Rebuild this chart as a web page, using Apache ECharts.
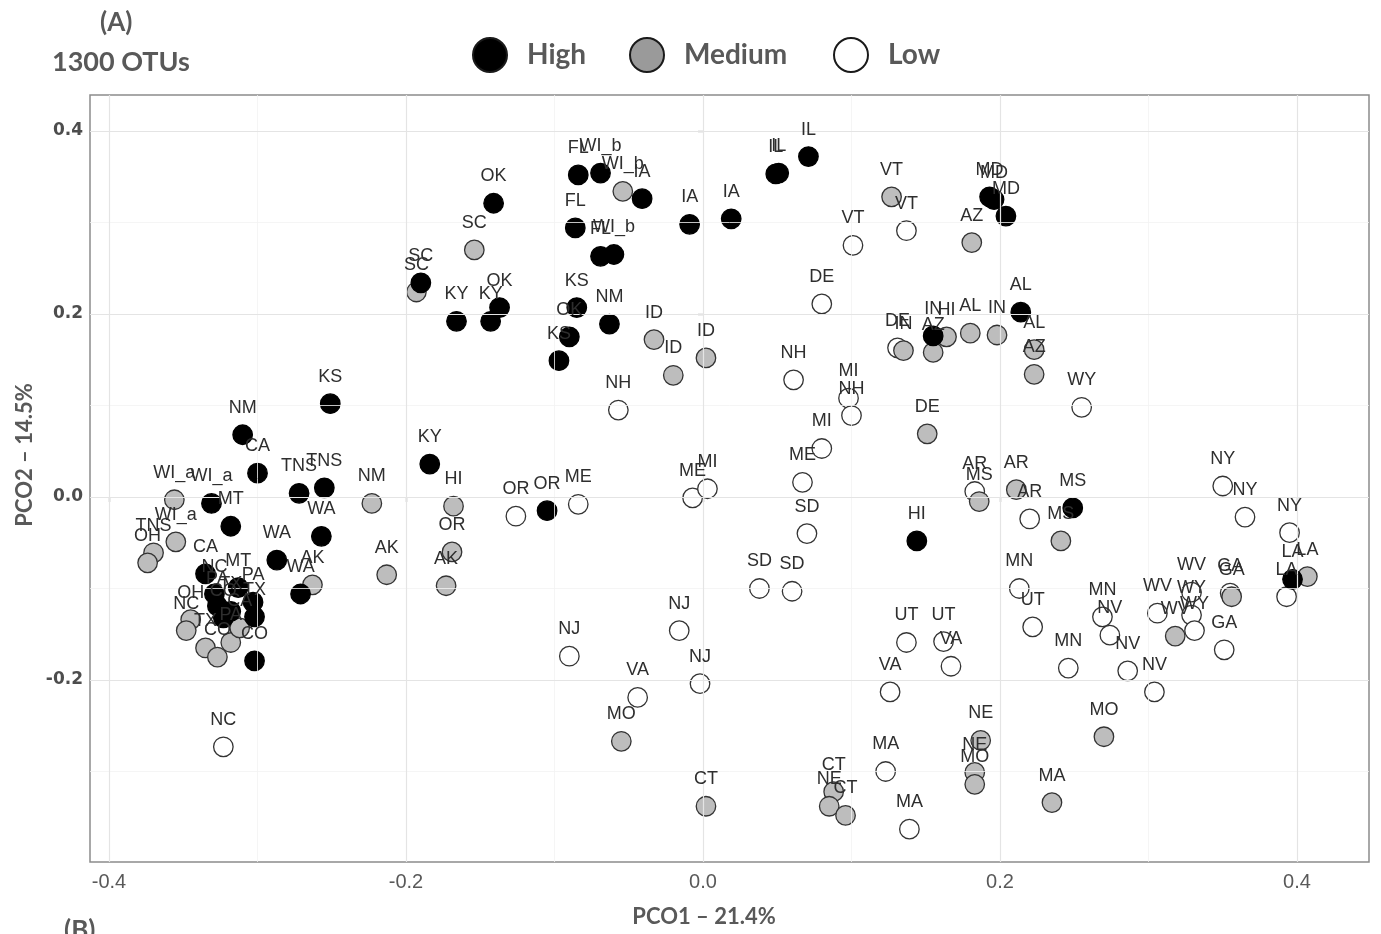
<!DOCTYPE html>
<html>
<head>
<meta charset="utf-8">
<script src="https://cdn.jsdelivr.net/npm/echarts@6/dist/echarts.min.js"></script>
<style>
  html, body { margin: 0; padding: 0; background: #ffffff; }
  #chart { width: 1381px; height: 934px; }
</style>
</head>
<body>
<div id="chart"></div>
<script>
// PCoA sample scores, grouped by abundance class (label = state / site)
const highLabels = ['OK','SC','KY','KY','OK','FL','WI_b','IA','FL','FL','WI_b','IA','IA','IL','IL','IL','KS','OK','KS','NM',
  'MD','MD','MD','IN','AL','KY','OR','MS','HI','LA','KS','NM','CA','TNS','TNS','WA','WI_a','MT','WA','WA',
  'CA','NC','MT','PA','TX','PA','CO','TX','CO'];
const highX = [-0.141,-0.190,-0.166,-0.143,-0.137,-0.084,-0.069,-0.041,-0.086,-0.069,-0.060,-0.009,0.019,0.049,0.051,0.071,-0.085,-0.090,-0.097,-0.063,
  0.193,0.196,0.204,0.155,0.214,-0.184,-0.105,0.249,0.144,0.397,-0.251,-0.310,-0.300,-0.272,-0.255,-0.257,-0.331,-0.318,-0.287,-0.271,
  -0.335,-0.329,-0.313,-0.303,-0.302,-0.327,-0.323,-0.318,-0.302];
const highY = [0.321,0.234,0.192,0.192,0.207,0.352,0.354,0.326,0.294,0.263,0.265,0.298,0.304,0.353,0.354,0.372,0.207,0.175,0.149,0.189,
  0.328,0.325,0.307,0.176,0.202,0.036,-0.015,-0.012,-0.048,-0.090,0.102,0.068,0.026,0.004,0.010,-0.043,-0.007,-0.032,-0.069,-0.106,
  -0.084,-0.106,-0.099,-0.115,-0.131,-0.119,-0.132,-0.125,-0.179];

const medLabels = ['SC','SC','WI_b','ID','ID','ID','VT','AZ','IN','HI','AZ','AL','IN','AL','AZ','DE','NM','HI','OR','AK',
  'AK','MS','AR','MS','WV','GA','LA','MO','CT','CT','NE','CT','NE','NE','MO','MA','MO','WI_a','WI_a','TNS',
  'OH','AK','OH','NC','TX','CO','PA','CA'];
const medX = [-0.154,-0.193,-0.054,-0.033,-0.020,0.002,0.127,0.181,0.135,0.164,0.155,0.180,0.198,0.223,0.223,0.151,-0.223,-0.168,-0.169,-0.173,
  -0.213,0.186,0.211,0.241,0.318,0.356,0.407,-0.055,0.002,0.088,0.085,0.096,0.187,0.183,0.183,0.235,0.270,-0.356,-0.355,-0.370,
  -0.374,-0.263,-0.345,-0.348,-0.335,-0.327,-0.318,-0.312];
const medY = [0.270,0.224,0.334,0.172,0.133,0.152,0.328,0.278,0.160,0.175,0.158,0.179,0.177,0.161,0.134,0.069,-0.007,-0.010,-0.060,-0.097,
  -0.085,-0.005,0.008,-0.048,-0.152,-0.109,-0.087,-0.267,-0.338,-0.322,-0.338,-0.348,-0.266,-0.301,-0.314,-0.334,-0.262,-0.003,-0.049,-0.061,
  -0.072,-0.096,-0.134,-0.146,-0.165,-0.175,-0.159,-0.143];

const lowLabels = ['NH','VT','VT','DE','DE','NH','MI','NH','MI','WY','OR','ME','ME','MI','ME','SD','SD','SD','NJ','NJ',
  'VA','NJ','MA','MA','UT','UT','VA','VA','UT','MN','MN','MN','NV','NV','NV','WV','WV','WY','WY','GA',
  'GA','NY','NY','NY','LA','AR','AR','NC'];
const lowX = [-0.057,0.137,0.101,0.080,0.131,0.061,0.098,0.100,0.080,0.255,-0.126,-0.084,-0.007,0.003,0.067,0.070,0.038,0.060,-0.016,-0.090,
  -0.044,-0.002,0.123,0.139,0.137,0.162,0.167,0.126,0.222,0.213,0.246,0.269,0.274,0.286,0.304,0.306,0.329,0.329,0.331,0.355,
  0.351,0.350,0.365,0.395,0.393,0.183,0.220,-0.323];
const lowY = [0.095,0.291,0.275,0.211,0.163,0.128,0.108,0.089,0.053,0.098,-0.021,-0.008,-0.001,0.009,0.016,-0.040,-0.100,-0.103,-0.146,-0.174,
  -0.219,-0.204,-0.300,-0.363,-0.159,-0.158,-0.185,-0.213,-0.142,-0.100,-0.187,-0.131,-0.151,-0.190,-0.213,-0.127,-0.104,-0.129,-0.146,-0.105,
  -0.167,0.012,-0.022,-0.039,-0.109,0.006,-0.024,-0.273];

// Axis extents, tick positions and grid lines
const xRange = [-0.4128, 0.4485];
const yRange = [-0.3989, 0.4393];
const xTicks = [-0.4, -0.2, 0, 0.2, 0.4];
const yTicks = [-0.2, 0, 0.2, 0.4];
const xMinor = [-0.3, -0.1, 0.1, 0.3];
const yMinor = [-0.3, -0.1, 0.1, 0.3];

const groupNames = ['High', 'Medium', 'Low'];

const zip = (xs, ys) => xs.map((x, i) => [x, ys[i]]);
const named = (labels, xs, ys) => labels.map((n, i) => ({ name: n, value: [xs[i], ys[i]] }));

const majorLine = { color: '#e4e4e4', width: 1.2, type: 'solid' };
const minorLine = { color: '#f2f2f2', width: 0.8, type: 'solid' };

const gridLines = [
  ...xMinor.map(v => ({ xAxis: v, lineStyle: minorLine })),
  ...yMinor.map(v => ({ yAxis: v, lineStyle: minorLine })),
  ...xTicks.map(v => ({ xAxis: v, lineStyle: majorLine })),
  ...yTicks.map(v => ({ yAxis: v, lineStyle: majorLine }))
];

const pointSeries = (name, xs, ys, fill, stroke, z) => ({
  name: name,
  type: 'scatter',
  data: zip(xs, ys),
  symbol: 'circle',
  symbolSize: 19.5,
  z: z,
  itemStyle: { color: fill, borderColor: stroke, borderWidth: 1.3, opacity: 1 },
  emphasis: { disabled: true },
  silent: true
});

const calibriLike = 'Lato, "Open Sans", sans-serif';

const legendBase = (name, left, iconColor) => ({
  data: [{ name: name, itemStyle: { color: iconColor, borderColor: '#1a1a1a', borderWidth: 2 } }],
  left: left,
  top: 32,
  orient: 'horizontal',
  icon: 'circle',
  itemWidth: 64,
  itemHeight: 34,
  selectedMode: false,
  textStyle: { fontFamily: calibriLike, fontWeight: 'bold', fontSize: 28, color: '#595959' }
});

const chart = echarts.init(document.getElementById('chart'), null, { renderer: 'canvas' });

chart.setOption({
  animation: false,
  backgroundColor: '#ffffff',
  legend: [
    legendBase('High', 467, '#000000'),
    legendBase('Medium', 624, '#9a9a9a'),
    legendBase('Low', 828, '#ffffff')
  ],
  grid: {
    left: 90, right: 12, top: 95, bottom: 72,
    show: true, backgroundColor: '#ffffff',
    borderColor: '#8c8c8c', borderWidth: 1.5
  },
  xAxis: {
    type: 'value',
    min: xRange[0], max: xRange[1],
    axisLine: { show: false },
    splitLine: { show: false },
    axisTick: { show: true, customValues: xTicks, length: 5, lineStyle: { color: '#444', width: 1.2 } },
    axisLabel: {
      customValues: xTicks,
      formatter: v => v.toFixed(1),
      margin: 10,
      fontFamily: '"Liberation Sans Narrow", "Liberation Sans", sans-serif',
      fontSize: 20,
      color: '#595959'
    }
  },
  yAxis: {
    type: 'value',
    min: yRange[0], max: yRange[1],
    axisLine: { show: false },
    splitLine: { show: false },
    axisTick: { show: true, customValues: yTicks, length: 5, lineStyle: { color: '#444', width: 1.2 } },
    axisLabel: {
      customValues: yTicks,
      formatter: v => v.toFixed(1),
      margin: 7,
      fontFamily: '"DejaVu Sans", sans-serif',
      fontWeight: 'bold',
      fontSize: 17,
      color: '#4d4d4d'
    }
  },
  graphic: [
    { type: 'text', left: 100, top: 10, style: { text: '(A)', fontFamily: calibriLike, fontWeight: 'bold', fontSize: 26, fill: '#595959' } },
    { type: 'text', left: 52, top: 49, style: { text: '1300 OTUs', fontFamily: calibriLike, fontWeight: 'bold', fontSize: 27, fill: '#595959' } },
    { type: 'text', x: 704, y: 917, style: { text: 'PCO1 – 21.4%', align: 'center', verticalAlign: 'middle', fontFamily: calibriLike, fontWeight: 'bold', fontSize: 22, fill: '#595959' } },
    { type: 'text', x: 25, y: 455, rotation: Math.PI / 2, style: { text: 'PCO2 – 14.5%', align: 'center', verticalAlign: 'middle', fontFamily: calibriLike, fontWeight: 'bold', fontSize: 22, fill: '#595959' } },
    { type: 'text', left: 64, top: 918, style: { text: '(B)', fontFamily: calibriLike, fontWeight: 'bold', fontSize: 26, fill: '#595959' } }
  ],
  series: [
    {
      name: 'grid-lines',
      type: 'scatter',
      data: [],
      z: 1,
      silent: true,
      markLine: {
        silent: true,
        animation: false,
        symbol: ['none', 'none'],
        label: { show: false },
        emphasis: { disabled: true },
        data: gridLines
      }
    },
    pointSeries(groupNames[2], lowX, lowY, '#ffffff', '#333333', 2),
    pointSeries(groupNames[1], medX, medY, '#bdbdbd', '#333333', 3),
    pointSeries(groupNames[0], highX, highY, '#000000', '#000000', 4),
    {
      name: 'sample-labels',
      type: 'scatter',
      data: [
        ...named(lowLabels, lowX, lowY),
        ...named(medLabels, medX, medY),
        ...named(highLabels, highX, highY)
      ],
      symbolSize: 0,
      z: 6,
      silent: true,
      itemStyle: { color: 'rgba(0,0,0,0)' },
      emphasis: { disabled: true },
      label: {
        show: true,
        position: 'inside',
        offset: [0, -27],
        formatter: p => p.name,
        fontFamily: '"Liberation Sans", Arial, sans-serif',
        fontSize: 18,
        color: '#2e2e2e',
        opacity: 1
      }
    }
  ]
});
</script>
</body>
</html>
